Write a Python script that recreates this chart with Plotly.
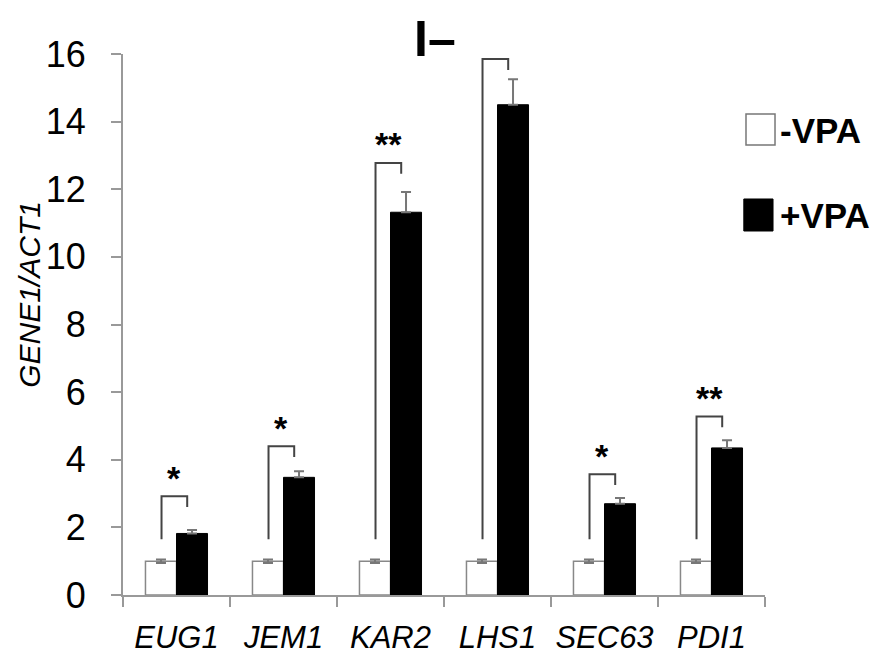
import plotly.graph_objects as go

genes = ["EUG1", "JEM1", "KAR2", "LHS1", "SEC63", "PDI1"]
minus_vpa = [1.0, 1.0, 1.0, 1.0, 1.0, 1.0]
minus_err = [0.05, 0.05, 0.05, 0.05, 0.05, 0.05]
plus_vpa = [1.82, 3.48, 11.32, 14.5, 2.7, 4.35]
plus_err = [0.1, 0.18, 0.6, 0.75, 0.17, 0.23]
bracket_top = [2.92, 4.4, 12.78, 15.85, 3.57, 5.28]
stars = ["*", "*", "**", "***", "*", "**"]
y_ticks = [0, 2, 4, 6, 8, 10, 12, 14, 16]

FONT = "Liberation Sans, Arial"

fig = go.Figure()
fig.add_trace(go.Bar(
    x=genes, y=minus_vpa, name="-VPA",
    marker=dict(color="white", line=dict(color="#888888", width=1.5)),
    error_y=dict(type="data", array=minus_err, color="#777777", thickness=2, width=5),
))
fig.add_trace(go.Bar(
    x=genes, y=plus_vpa, name="+VPA",
    marker=dict(color="black", line=dict(color="black", width=1)),
    error_y=dict(type="data", symmetric=False, array=plus_err,
                 arrayminus=[0] * len(plus_err), color="#777777", thickness=2, width=5),
))

line_col = "#444444"
for i, (top, s) in enumerate(zip(bracket_top, stars)):
    xl = i - 0.14
    xr = i + 0.10
    fig.add_shape(type="path",
                  path=f"M {xl} {minus_vpa[i] + 0.65} L {xl} {top} L {xr} {top} L {xr} {top - 0.32}",
                  xref="x", yref="y", line=dict(color=line_col, width=2))
    fig.add_annotation(x=i - 0.02, y=top + 0.55, xref="x", yref="y", text=f"<b>{s}</b>",
                       showarrow=False, font=dict(size=34, color="black", family=FONT),
                       yanchor="middle", xanchor="center")

# legend drawn manually (large squares)
fig.add_shape(type="rect", xref="paper", yref="paper", x0=0.9704, x1=1.0156,
              y0=0.8318, y1=0.889, line=dict(color="#777777", width=1.5), fillcolor="white")
fig.add_shape(type="rect", xref="paper", yref="paper", x0=0.967, x1=1.0125,
              y0=0.6728, y1=0.732, line=dict(color="black", width=1), fillcolor="black")
fig.add_annotation(x=1.021, y=0.8595, xref="paper", yref="paper", text="<b>-VPA</b>",
                   showarrow=False, xanchor="left", yanchor="middle",
                   font=dict(size=35, color="black", family=FONT))
fig.add_annotation(x=1.021, y=0.7024, xref="paper", yref="paper", text="<b>+VPA</b>",
                   showarrow=False, xanchor="left", yanchor="middle",
                   font=dict(size=35, color="black", family=FONT))

# panel label at top
fig.add_annotation(x=0.486, y=1.083, xref="paper", yref="paper", text="<b>I–</b>",
                   showarrow=False, xanchor="center", yanchor="top",
                   font=dict(size=50, color="black", family=FONT))

# y-axis title
fig.add_annotation(x=0, y=0.555, xref="paper", yref="paper", xshift=-93,
                   text="<i>GENE1/ACT1</i>", textangle=-90, showarrow=False,
                   xanchor="center", yanchor="middle",
                   font=dict(size=30, color="black", family=FONT))

fig.update_layout(
    width=876, height=648,
    margin=dict(l=115, r=119, t=46, b=61),
    paper_bgcolor="white", plot_bgcolor="white",
    barmode="group", bargap=0.42, bargroupgap=0,
    showlegend=False,
    font=dict(family=FONT, color="black"),
)
fig.update_xaxes(
    type="category", showline=True, linecolor="#999999", linewidth=2,
    ticks="outside", tickson="boundaries", ticklen=10, tickcolor="#999999", tickwidth=2,
    tickfont=dict(size=31, color="black"), showgrid=False, zeroline=False,
    ticktext=[f"<i>{g}</i>" for g in genes], tickvals=genes,
    tickangle=0, automargin=False, ticklabelstandoff=14,
)
fig.update_yaxes(
    range=[0, 16], tickvals=y_ticks, showline=True, linecolor="#999999", linewidth=2,
    ticks="outside", ticklen=10, tickcolor="#999999", tickwidth=2,
    tickfont=dict(size=36, color="black"), showgrid=False, zeroline=False,
    automargin=False, ticklabelstandoff=18,
)

fig.write_html("out.html")
